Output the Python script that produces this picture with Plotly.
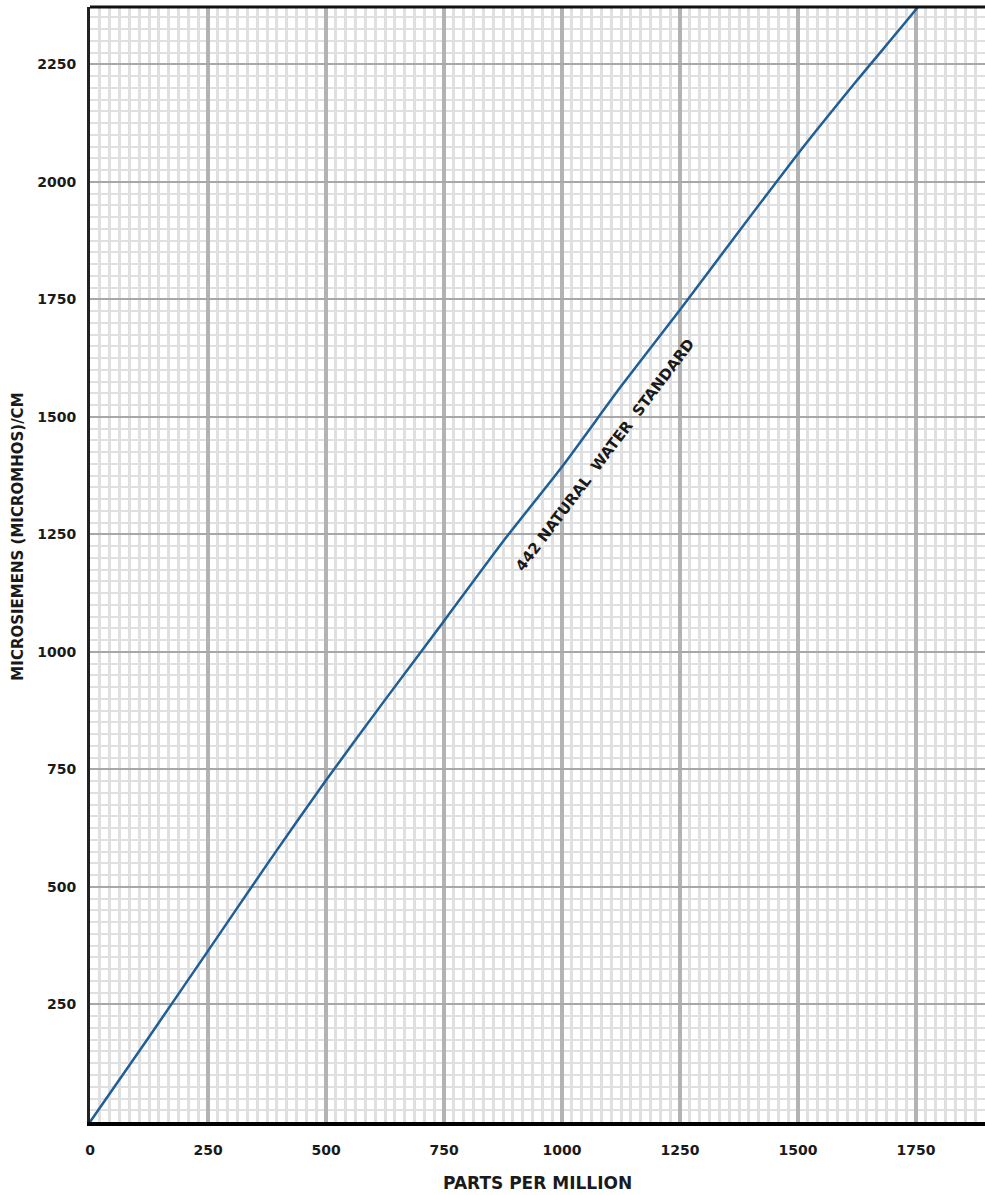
import plotly.graph_objects as go

# Data
ppm = [0, 125, 250, 375, 500, 625, 750, 875, 1000, 1125, 1250, 1375, 1500, 1625, 1750, 1770]
microsiemens = [0, 181, 364, 548, 727, 898, 1066, 1235, 1394, 1565, 1728, 1895, 2060, 2216, 2367, 2395]

x_ticks = [0, 250, 500, 750, 1000, 1250, 1500, 1750]
x_tick_labels = ["0", "250", "500", "750", "1000", "1250", "1500", "1750"]
y_ticks = [250, 500, 750, 1000, 1250, 1500, 1750, 2000, 2250]
y_tick_labels = ["250", "500", "750", "1000", "1250", "1500", "1750", "2000", "2250"]

series_label = "442&nbsp;NATURAL&nbsp;&nbsp;WATER&nbsp;&nbsp;STANDARD"
x_title = "PARTS PER MILLION"
y_title = "MICROSIEMENS (MICROMHOS)/CM"

FONT = "DejaVu Sans"
TXT = "#1a1a1a"

fig = go.Figure()
fig.add_trace(go.Scatter(
    x=ppm, y=microsiemens, mode="lines",
    line=dict(color="#1f5f96", width=2.5, shape="spline", smoothing=0.6),
    showlegend=False, hoverinfo="skip",
))

fig.update_layout(
    width=985, height=1195,
    margin=dict(l=90, r=0, t=7, b=73),
    paper_bgcolor="white", plot_bgcolor="white",
    font=dict(family=FONT, color=TXT, size=13),
    showlegend=False,
)

fig.update_xaxes(
    range=[0, 1896],
    tickmode="array", tickvals=x_ticks, ticktext=x_tick_labels,
    tickfont=dict(family=FONT, size=14, color=TXT, weight="bold"),
    ticks="", ticklabelstandoff=12,
    showgrid=True, gridcolor="#b3b3b3", gridwidth=4,
    minor=dict(dtick=250 / 12, tick0=0, showgrid=True, gridcolor="#e0e0e0", gridwidth=3),
    showline=True, linecolor="#000000", linewidth=4,
    zeroline=False, fixedrange=True,
)
fig.update_yaxes(
    range=[0, 2372],
    tickmode="array", tickvals=y_ticks, ticktext=y_tick_labels,
    tickfont=dict(family=FONT, size=14, color=TXT, weight="bold"),
    ticks="", ticklabelstandoff=8,
    showgrid=True, gridcolor="#a8a8a8", gridwidth=2,
    minor=dict(dtick=25, tick0=0, showgrid=True, gridcolor="#e0e0e0", gridwidth=2),
    showline=True, linecolor="#222222", linewidth=3,
    zeroline=False, fixedrange=True,
)

# top border
fig.add_shape(type="line", xref="paper", yref="paper", x0=0, x1=1, y0=1, y1=1,
              line=dict(color="#111111", width=3))

fig.add_annotation(
    text=series_label, x=1091, y=1419, xref="x", yref="y",
    textangle=-53, showarrow=False,
    font=dict(family=FONT, size=15, color=TXT, weight="bold"),
)
fig.add_annotation(
    text=x_title, xref="paper", yref="paper", x=0.5, y=0, yshift=-61,
    yanchor="middle", xanchor="center", showarrow=False,
    font=dict(family=FONT, size=17, color=TXT, weight="bold"),
)
fig.add_annotation(
    text=y_title, xref="paper", yref="paper", x=0, y=0.525, xshift=-72,
    xanchor="center", yanchor="middle", textangle=-90, showarrow=False,
    font=dict(family=FONT, size=15, color=TXT, weight="bold"),
)

fig.write_html(
    "out.html",
    config={"displayModeBar": False},
    post_script="document.body.style.margin='0';document.body.style.overflow='hidden';",
)
